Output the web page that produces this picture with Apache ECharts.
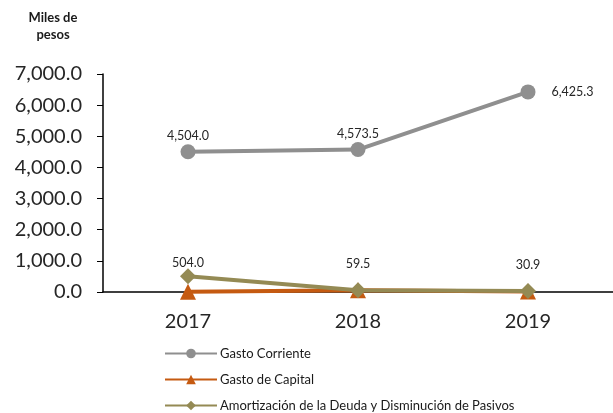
<!DOCTYPE html>
<html>
<head>
<meta charset="utf-8">
<script src="https://cdn.jsdelivr.net/npm/echarts@6/dist/echarts.min.js"></script>
<style>
  html, body { margin: 0; padding: 0; background: #fff; }
  #chart { width: 613px; height: 413px; }
</style>
</head>
<body>
<div id="chart"></div>
<script>
const years = ['2017', '2018', '2019'];
const gastoCorriente = [4504.0, 4573.5, 6425.3];
const gastoCapital = [10, 60, 15];
const amortizacion = [504.0, 59.5, 30.9];
const yTicks = [0, 1000, 2000, 3000, 4000, 5000, 6000, 7000];

const fmt = (v) => Number(v).toLocaleString('en-US', { minimumFractionDigits: 1, maximumFractionDigits: 1 });

const chart = echarts.init(document.getElementById('chart'));

// last point of Gasto Corriente carries its label on the right
const corrienteData = gastoCorriente.map((v, i) =>
  i === gastoCorriente.length - 1
    ? { value: v, label: { position: 'right', distance: 16 } }
    : v
);
// small amortization values sit higher above their markers
const amortData = amortizacion.map((v, i) =>
  i === 0 ? v : { value: v, label: { distance: 12 } }
);

chart.setOption({
  animation: false,
  textStyle: { fontFamily: 'Lato' },
  title: {
    text: 'Miles de\npesos',
    left: 48,
    top: 4,
    textAlign: 'center',
    textStyle: { fontSize: 13, fontWeight: 'bold', color: '#1a1a1a', lineHeight: 17, fontFamily: 'Lato' }
  },
  grid: { left: 103, right: -3, top: 74, bottom: 121 },
  legend: {
    orient: 'vertical',
    left: 164,
    top: 347,
    padding: 0,
    itemGap: 13,
    itemWidth: 52,
    itemHeight: 12,
    textStyle: { fontSize: 13, color: '#1a1a1a', padding: [0, 0, 0, -2] },
    data: ['Gasto Corriente', 'Gasto de Capital', 'Amortización de la Deuda y Disminución de Pasivos']
  },
  xAxis: {
    type: 'category',
    data: years,
    axisLine: { lineStyle: { color: '#000', width: 1.5 } },
    axisTick: { show: false },
    axisLabel: { fontSize: 20, color: '#262626', margin: 20 }
  },
  yAxis: {
    type: 'value',
    min: yTicks[0],
    max: yTicks[yTicks.length - 1],
    interval: 1000,
    splitLine: { show: false },
    axisLine: { show: true, lineStyle: { color: '#000', width: 1.5 } },
    axisTick: { show: true, length: 6, lineStyle: { color: '#000' } },
    axisLabel: { fontSize: 20, color: '#262626', margin: 21, formatter: fmt }
  },
  series: [
    {
      name: 'Gasto Corriente',
      type: 'line',
      data: corrienteData,
      symbol: 'circle',
      symbolSize: 15,
      z: 3,
      lineStyle: { color: '#8f8f8f', width: 4 },
      itemStyle: { color: '#8f8f8f' },
      label: {
        show: true,
        fontSize: 12.5,
        color: '#262626',
        distance: 2,
        position: 'top',
        formatter: (p) => fmt(p.value)
      }
    },
    {
      name: 'Gasto de Capital',
      type: 'line',
      data: gastoCapital,
      symbol: 'triangle',
      symbolSize: 16,
      z: 4,
      lineStyle: { color: '#c55a11', width: 4 },
      itemStyle: { color: '#c55a11' }
    },
    {
      name: 'Amortización de la Deuda y Disminución de Pasivos',
      type: 'line',
      data: amortData,
      symbol: 'diamond',
      symbolSize: 16,
      z: 5,
      lineStyle: { color: '#948a54', width: 4 },
      itemStyle: { color: '#948a54' },
      label: {
        show: true,
        fontSize: 12.5,
        color: '#262626',
        distance: -1,
        position: 'top',
        formatter: (p) => fmt(p.value)
      }
    }
  ]
});
</script>
</body>
</html>
